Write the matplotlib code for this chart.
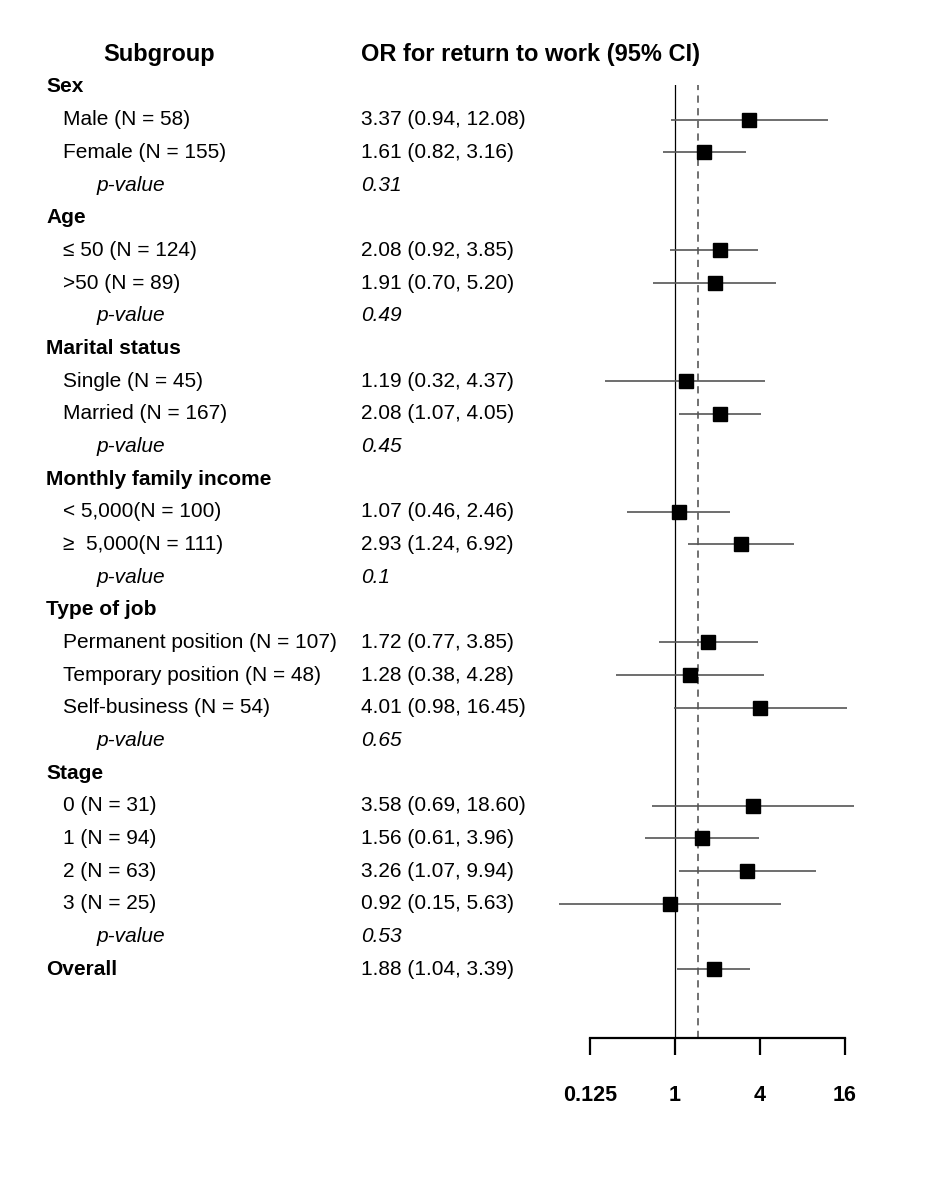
import matplotlib.pyplot as plt
import matplotlib.transforms as mtransforms
from matplotlib.ticker import NullLocator

plt.rcParams['font.family'] = ['Liberation Sans', 'DejaVu Sans']

# data
groups = ["Sex", "Age", "Marital status", "Monthly family income", "Type of job", "Stage"]
group_sizes = [2, 2, 2, 2, 3, 4]
p_values = ["0.31", "0.49", "0.45", "0.1", "0.65", "0.53"]
sub_labels = ["Male (N = 58)", "Female (N = 155)",
              "\u2264 50 (N = 124)", ">50 (N = 89)",
              "Single (N = 45)", "Married (N = 167)",
              "< 5,000(N = 100)", "\u2265  5,000(N = 111)",
              "Permanent position (N = 107)", "Temporary position (N = 48)", "Self-business (N = 54)",
              "0 (N = 31)", "1 (N = 94)", "2 (N = 63)", "3 (N = 25)"]
or_est = [3.37, 1.61, 2.08, 1.91, 1.19, 2.08, 1.07, 2.93, 1.72, 1.28, 4.01, 3.58, 1.56, 3.26, 0.92]
ci_low = [0.94, 0.82, 0.92, 0.70, 0.32, 1.07, 0.46, 1.24, 0.77, 0.38, 0.98, 0.69, 0.61, 1.07, 0.15]
ci_high = [12.08, 3.16, 3.85, 5.20, 4.37, 4.05, 2.46, 6.92, 3.85, 4.28, 16.45, 18.60, 3.96, 9.94, 5.63]
overall_label = "Overall"
overall_est, overall_low, overall_high = 1.88, 1.04, 3.39
ref_line = 1.45
tick_vals = [0.25, 1, 4, 16]
tick_labels = ["0.125", "1", "4", "16"]

W, H = 925, 1179
fig = plt.figure(figsize=(W / 100, H / 100), dpi=100)

# pixel layout
x_one, px_per_log2 = 675, 42.5
ax_left, ax_right, ax_top, ax_bottom = 540, 870, 85, 1038
row0, row_step = 87, 32.67

ax = fig.add_axes([ax_left / W, 1 - ax_bottom / H, (ax_right - ax_left) / W, (ax_bottom - ax_top) / H])
ax.set_xscale('log', base=2)
ax.set_xlim(2 ** ((ax_left - x_one) / px_per_log2), 2 ** ((ax_right - x_one) / px_per_log2))
ax.set_ylim((ax_bottom - row0) / row_step, (ax_top - row0) / row_step)

trans = mtransforms.blended_transform_factory(fig.transFigure, ax.transData)
fs = 15
x_head, x_sub, x_p, x_or = 46 / W, 63 / W, 97 / W, 361 / W

def fmt(e, lo, hi):
    return "{:.2f} ({:.2f}, {:.2f})".format(e, lo, hi)

# build rows
row = 0
k = 0
ys, es, los, his = [], [], [], []
for g, n, p in zip(groups, group_sizes, p_values):
    ax.text(x_head, row, g, transform=trans, fontsize=fs, fontweight='bold', va='center')
    row += 1
    for _ in range(n):
        ax.text(x_sub, row, sub_labels[k], transform=trans, fontsize=fs, va='center')
        ax.text(x_or, row, fmt(or_est[k], ci_low[k], ci_high[k]), transform=trans, fontsize=fs, va='center')
        ys.append(row)
        es.append(or_est[k])
        los.append(ci_low[k])
        his.append(ci_high[k])
        k += 1
        row += 1
    ax.text(x_p, row, "p-value", transform=trans, fontsize=fs, style='italic', va='center')
    ax.text(x_or, row, p, transform=trans, fontsize=fs, style='italic', va='center')
    row += 1

ax.text(x_head, row, overall_label, transform=trans, fontsize=fs, fontweight='bold', va='center')
ax.text(x_or, row, fmt(overall_est, overall_low, overall_high), transform=trans, fontsize=fs, va='center')
ys.append(row)
es.append(overall_est)
los.append(overall_low)
his.append(overall_high)

# column headers
ax.text(159 / W, -0.98, "Subgroup", transform=trans, fontsize=17, fontweight='bold', va='center', ha='center')
ax.text(x_or, -0.98, "OR for return to work (95% CI)", transform=trans, fontsize=17,
        fontweight='bold', va='center')

# reference lines
ax.axvline(1, color='black', lw=0.9, zorder=1)
ax.axvline(ref_line, color='#666666', lw=1.3, ls=(0, (4, 3)), zorder=1)

# CIs and squares
ax.hlines(ys, los, his, color='#555555', lw=1.2, zorder=2)
ax.plot(es, ys, 's', color='black', ms=9.4, zorder=3)

# axis
for s in ['top', 'right', 'left']:
    ax.spines[s].set_visible(False)
ax.spines['bottom'].set_bounds(tick_vals[0], tick_vals[-1])
ax.spines['bottom'].set_linewidth(1.6)
ax.set_yticks([])
ax.set_xticks(tick_vals)
ax.set_xticklabels(tick_labels, fontweight='bold')
ax.xaxis.set_minor_locator(NullLocator())
ax.tick_params(axis='x', direction='out', length=12.5, width=1.6, pad=21, labelsize=15.5)
ax.patch.set_alpha(0)

fig.savefig('out.png', dpi=100)
